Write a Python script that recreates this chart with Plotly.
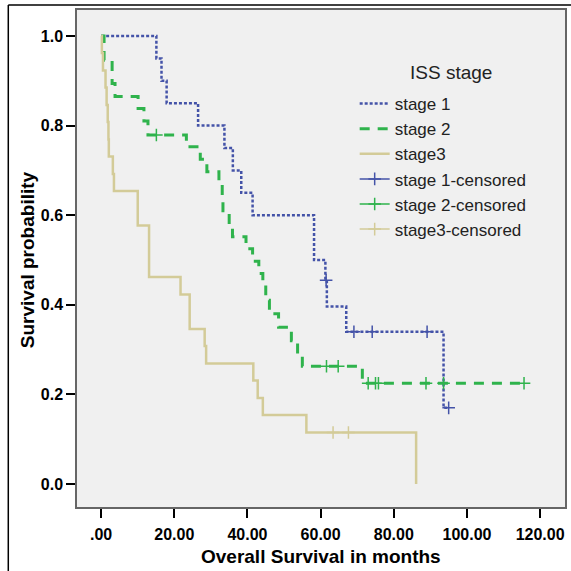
import plotly.graph_objects as go

# ---- data ----
stage1_time = [0, 15.1, 16.5, 17.9, 26.5, 33.7, 36.0, 38.3, 41.4, 58.2, 61.3, 61.7, 67.0, 93.6]
stage1_surv = [1.0, 0.95, 0.90, 0.85, 0.80, 0.75, 0.70, 0.65, 0.60, 0.50, 0.455, 0.396, 0.34, 0.17]
stage1_cens_time = [61.5, 69.1, 74.1, 89.1, 95.0]
stage1_cens_surv = [0.455, 0.34, 0.34, 0.34, 0.17]

stage2_time = [0, 0.8, 3.0, 3.8, 10.1, 11.7, 12.8, 23.3, 27.1, 28.9, 32.2, 33.1, 33.3, 35.0,
               35.9, 39.6, 41.4, 43.1, 44.2, 45.0, 46.0, 48.5, 52.0, 53.7, 55.0, 71.4]
stage2_surv = [1.0, 0.946, 0.894, 0.865, 0.838, 0.81, 0.779, 0.753, 0.725, 0.697, 0.668, 0.64, 0.61, 0.58,
               0.552, 0.525, 0.497, 0.47, 0.44, 0.41, 0.38, 0.35, 0.32, 0.29, 0.263, 0.225]
stage2_cens_time = [15.1, 61.6, 64.8, 73.0, 75.0, 75.8, 88.8, 93.6, 115.6]
stage2_cens_surv = [0.779, 0.263, 0.263, 0.225, 0.225, 0.225, 0.225, 0.225, 0.225]

stage3_time = [0, 0.2, 0.5, 1.2, 1.5, 1.8, 2.0, 2.1, 3.2, 3.5, 10.0, 13.1, 21.7, 24.2, 28.3, 28.7,
               41.6, 42.8, 44.2, 56.1, 86.1]
stage3_surv = [1.0, 0.962, 0.923, 0.885, 0.846, 0.808, 0.769, 0.731, 0.692, 0.654, 0.577, 0.462, 0.423,
               0.346, 0.308, 0.269, 0.231, 0.192, 0.154, 0.115, 0.0]
stage3_cens_time = [63.4, 67.6]
stage3_cens_surv = [0.115, 0.115]

x_ticks = [0, 20, 40, 60, 80, 100, 120]
x_tick_labels = [".00", "20.00", "40.00", "60.00", "80.00", "100.00", "120.00"]
y_ticks = [0.0, 0.2, 0.4, 0.6, 0.8, 1.0]
y_tick_labels = ["0.0", "0.2", "0.4", "0.6", "0.8", "1.0"]

BLUE = "#4453a8"
GREEN = "#2fb34c"
TAN = "#d3cb98"
FONT = "Liberation Sans, Arial, sans-serif"


def extend_to_last(times, surv, cens_times):
    xs, ys = list(times), list(surv)
    if cens_times and max(cens_times) > xs[-1]:
        xs.append(max(cens_times))
        ys.append(ys[-1])
    return xs, ys


def gapped(xs, ys):
    gx, gy = [], []
    for a, b in zip(xs, ys):
        gx += [a, None]
        gy += [b, None]
    return gx, gy


fig = go.Figure()

for name, t, s, ct, color, dash, w in [
    ("stage 1", stage1_time, stage1_surv, stage1_cens_time, BLUE, "3px,2px", 2.5),
    ("stage 2", stage2_time, stage2_surv, stage2_cens_time, GREEN, "10px,8px", 3),
    ("stage3", stage3_time, stage3_surv, stage3_cens_time, TAN, "solid", 2.5),
]:
    xs, ys = extend_to_last(t, s, ct)
    fig.add_trace(go.Scatter(x=xs, y=ys, mode="lines", name=name,
                             line=dict(shape="hv", color=color, dash=dash, width=w)))

for name, ct, cs, color in [
    ("stage 1-censored", stage1_cens_time, stage1_cens_surv, BLUE),
    ("stage 2-censored", stage2_cens_time, stage2_cens_surv, GREEN),
    ("stage3-censored", stage3_cens_time, stage3_cens_surv, TAN),
]:
    gx, gy = gapped(ct, cs)
    fig.add_trace(go.Scatter(x=gx, y=gy, mode="lines+markers", name=name, connectgaps=False,
                             line=dict(color=color, width=1.5),
                             marker=dict(symbol="cross-thin", size=9,
                                         line=dict(color=color, width=1.5))))

fig.update_layout(
    width=571, height=571,
    margin=dict(l=77, r=4, t=10, b=64),
    paper_bgcolor="white",
    plot_bgcolor="#f0f0f0",
    font=dict(family=FONT, color="black"),
    showlegend=True,
    legend=dict(x=0.569, y=0.847, xanchor="left", yanchor="top",
                bgcolor="rgba(0,0,0,0)", borderwidth=0,
                font=dict(size=17, family=FONT, color="#222222"),
                itemwidth=30, tracegroupgap=0),
    xaxis=dict(range=[-6.6, 126.8], tickvals=x_ticks, ticktext=x_tick_labels,
               showgrid=False, zeroline=False, showline=True, mirror=True,
               linecolor="#666666", linewidth=1.5,
               ticks="outside", ticklen=9, tickcolor="black", tickwidth=1.5,
               tickfont=dict(size=16, family=FONT, color="black", weight="bold"),
               ticklabelstandoff=3),
    yaxis=dict(range=[-0.0513, 1.058], tickvals=y_ticks, ticktext=y_tick_labels,
               showgrid=False, zeroline=False, showline=True, mirror=True,
               linecolor="#666666", linewidth=1.5,
               ticks="outside", ticklen=9, tickcolor="black", tickwidth=1.5,
               tickfont=dict(size=16, family=FONT, color="black", weight="bold")),
    annotations=[
        dict(text="ISS stage", xref="paper", yref="paper", x=0.766, y=0.875,
             showarrow=False, font=dict(size=19, family=FONT, color="#222222"),
             xanchor="center", yanchor="middle"),
        dict(text="Overall Survival in months", xref="paper", yref="paper", x=0.5, y=-0.0986,
             showarrow=False, font=dict(size=19, family=FONT, color="black", weight="bold"),
             xanchor="center", yanchor="middle"),
        dict(text="Survival probability", xref="paper", yref="paper", x=-0.1, y=0.497,
             showarrow=False, textangle=-90,
             font=dict(size=19, family=FONT, color="black", weight="bold"),
             xanchor="center", yanchor="middle"),
    ],
    shapes=[
        dict(type="line", xref="paper", yref="paper", x0=-0.1408, x1=-0.1408, y0=-0.2, y1=1.0101,
             line=dict(color="black", width=1.5)),
        dict(type="line", xref="paper", yref="paper", x0=-0.1408, x1=1.02, y0=1.0101, y1=1.0101,
             line=dict(color="black", width=1.5)),
    ],
)

fig.write_html("out.html", config={"displayModeBar": False},
               post_script="document.body.style.margin='0';")
